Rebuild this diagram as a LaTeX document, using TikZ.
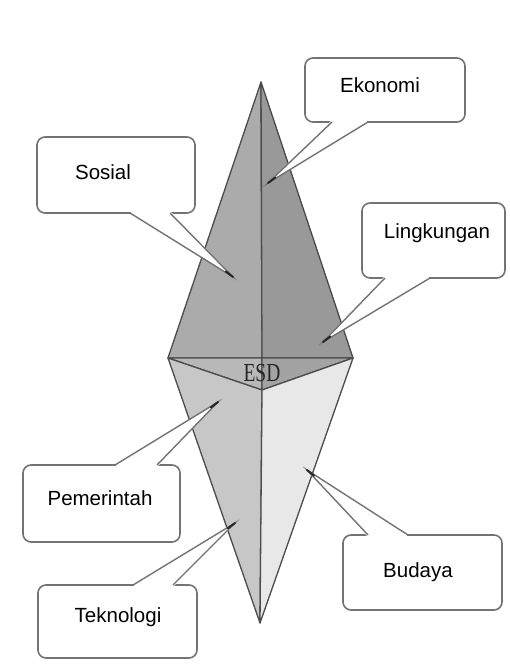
\documentclass[tikz,border=0pt]{standalone}
\usepackage{fontspec}
\setmainfont{Liberation Sans}
\newfontfamily\esdfont{Liberation Serif}
\usetikzlibrary{calc}
\begin{document}
\begin{tikzpicture}[x=1pt,y=-1pt,
  face/.style={draw=black!70,line width=1.3pt,line join=round},
  box/.style={draw=black!55,line width=1.6pt,fill=white,rounded corners=8pt},
  ptr/.style={draw=black!55,line width=1.4pt,line join=miter},
  tipmark/.style={draw=black!85,line width=2pt,line cap=round},
  lbl/.style={font=\fontsize{20.5}{24}\selectfont,text=black,inner sep=0pt}]
\useasboundingbox (0,0) rectangle (509,666);
\fill[white] (0,0) rectangle (509,666);
% diamond vertices
\coordinate (T) at (261,82);
\coordinate (B) at (260,623);
\coordinate (L) at (168,358);
\coordinate (R) at (353,358);
\coordinate (M) at (262,358);
\coordinate (C) at (262,390);
% faces
\filldraw[face,fill=black!33] (T) -- (L) -- (M) -- cycle;
\filldraw[face,fill=black!40] (T) -- (M) -- (R) -- cycle;
\filldraw[face,fill=black!28] (L) -- (M) -- (C) -- cycle;
\filldraw[face,fill=black!36] (M) -- (R) -- (C) -- cycle;
\filldraw[face,fill=black!22] (L) -- (C) -- (B) -- cycle;
\filldraw[face,fill=black!9] (R) -- (C) -- (B) -- cycle;
\node[inner sep=0pt,text=black!85,font=\esdfont\fontsize{26}{26}\selectfont,xscale=0.75] (esd) at (262,373) {ESD};
% tips
\coordinate (tSos) at (233,277);
\coordinate (tEko) at (268,183);
\coordinate (tLin) at (323,342);
\coordinate (tPem) at (218,402);
\coordinate (tTek) at (235,523);
\coordinate (tBud) at (307,470);
% Sosial
\draw[box] (37,137) rectangle (195,213);
\fill[white] (130,211) -- (tSos) -- (170,211) -- cycle;
\fill[white] (131,208) rectangle (169,216);
\draw[ptr] (130,213) -- (tSos) -- (170,213);
\draw[tipmark] (tSos) -- ($(tSos)!9pt!(150,213)$);
\node[lbl] (sosial) at (103,172) {Sosial};
% Ekonomi
\draw[box] (305,58) rectangle (465,122);
\fill[white] (332,120) -- (tEko) -- (368,120) -- cycle;
\fill[white] (333,117) rectangle (367,125);
\draw[ptr] (332,122) -- (tEko) -- (368,122);
\draw[tipmark] (tEko) -- ($(tEko)!9pt!(350,122)$);
\node[lbl] (ekonomi) at (380,85) {Ekonomi};
% Lingkungan
\draw[box] (362,203) rectangle (505,278);
\fill[white] (385,276) -- (tLin) -- (430,276) -- cycle;
\fill[white] (386,273) rectangle (429,281);
\draw[ptr] (385,278) -- (tLin) -- (430,278);
\draw[tipmark] (tLin) -- ($(tLin)!9pt!(407,278)$);
\node[lbl] (lingkungan) at (437,233) {Lingkungan};
% Pemerintah
\draw[box] (23,465) rectangle (180,542);
\fill[white] (115,467) -- (tPem) -- (157,467) -- cycle;
\fill[white] (116,462) rectangle (156,470);
\draw[ptr] (115,465) -- (tPem) -- (157,465);
\draw[tipmark] (tPem) -- ($(tPem)!9pt!(136,465)$);
\node[lbl] (pemerintah) at (100,498) {Pemerintah};
% Teknologi
\draw[box] (38,585) rectangle (197,658);
\fill[white] (133,587) -- (tTek) -- (173,587) -- cycle;
\fill[white] (134,582) rectangle (172,590);
\draw[ptr] (133,585) -- (tTek) -- (173,585);
\draw[tipmark] (tTek) -- ($(tTek)!9pt!(153,585)$);
\node[lbl] (teknologi) at (118,617) {Teknologi};
% Budaya
\draw[box] (343,535) rectangle (502,610);
\fill[white] (368,537) -- (tBud) -- (408,537) -- cycle;
\fill[white] (369,532) rectangle (407,540);
\draw[ptr] (368,535) -- (tBud) -- (408,535);
\draw[tipmark] (tBud) -- ($(tBud)!9pt!(388,535)$);
\node[lbl] (budaya) at (418,572) {Budaya};
\end{tikzpicture}
\end{document}
